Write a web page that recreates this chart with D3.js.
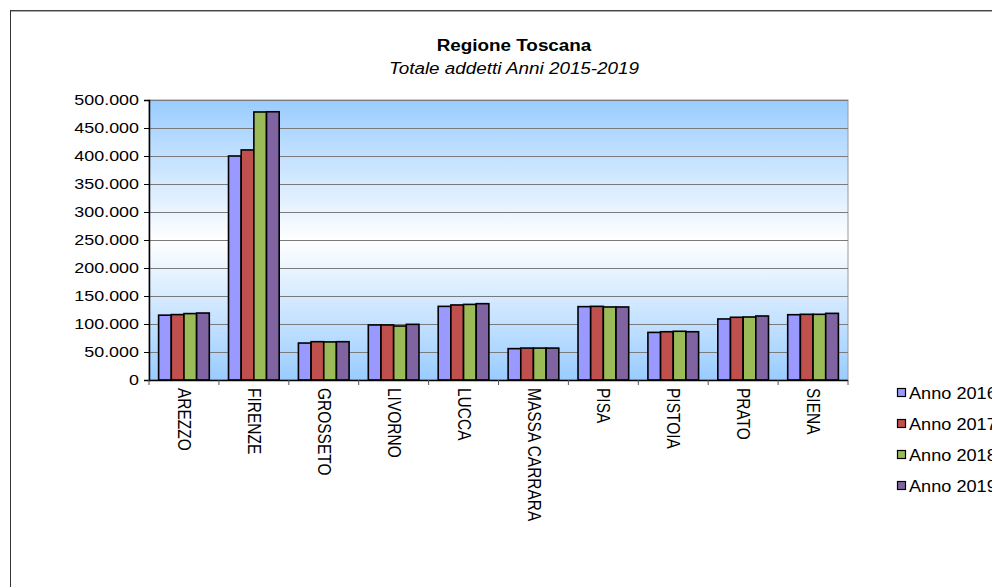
<!DOCTYPE html>
<html>
<head>
<meta charset="utf-8">
<script src="https://cdn.jsdelivr.net/npm/d3@7/dist/d3.min.js"></script>
<style>
  html, body { margin: 0; padding: 0; background: #fff; }
  svg { display: block; font-family: "Liberation Sans", Arial, sans-serif; }
</style>
</head>
<body>
<svg id="chart" width="992" height="587"></svg>
<script>
const categories = ["AREZZO","FIRENZE","GROSSETO","LIVORNO","LUCCA","MASSA CARRARA","PISA","PISTOIA","PRATO","SIENA"];
const seriesNames = ["Anno 2016","Anno 2017","Anno 2018","Anno 2019"];
const anno2016 = [115800, 400000, 66000, 98300, 131500, 56000, 131000, 85000, 109000, 116600];
const anno2017 = [116800, 410800, 68400, 98300, 134000, 57000, 131500, 86200, 112000, 117300];
const anno2018 = [118600, 478600, 68000, 96400, 135000, 57000, 130400, 87000, 112500, 117300];
const anno2019 = [119600, 479000, 68400, 99400, 136300, 57000, 130400, 86200, 114300, 119000];
const seriesColors = ["#9999FF","#C0504D","#9BBB59","#8064A2"];
const yTicks = [0,50000,100000,150000,200000,250000,300000,350000,400000,450000,500000];
const titleText = "Regione Toscana";
const subtitleText = "Totale addetti Anni 2015-2019";

const series = [anno2016, anno2017, anno2018, anno2019];
const svg = d3.select("#chart");
const itFmt = d3.formatLocale({decimal: ",", thousands: ".", grouping: [3], currency: ["€",""]}).format(",d");

const plot = {left: 149, right: 848, top: 100, bottom: 380};

// outer frame (partial, like the reference)
svg.append("line").attr("x1", 10).attr("y1", 10.5).attr("x2", 992).attr("y2", 10.5)
  .attr("stroke", "#444").attr("stroke-width", 1);
svg.append("line").attr("x1", 10).attr("y1", 11.5).attr("x2", 992).attr("y2", 11.5)
  .attr("stroke", "#aaa").attr("stroke-width", 1);
svg.append("line").attr("x1", 10.5).attr("y1", 10).attr("x2", 10.5).attr("y2", 587)
  .attr("stroke", "#333").attr("stroke-width", 1);

// gradient
const defs = svg.append("defs");
const grad = defs.append("linearGradient").attr("id", "bg").attr("x1", 0).attr("y1", 0).attr("x2", 0).attr("y2", 1);
grad.append("stop").attr("offset", "0%").attr("stop-color", "#99CCFF");
grad.append("stop").attr("offset", "50%").attr("stop-color", "#FFFFFF");
grad.append("stop").attr("offset", "100%").attr("stop-color", "#99CCFF");

const x0 = d3.scaleBand().domain(categories).range([plot.left, plot.right]).paddingInner(0.275).paddingOuter(0.1375);
const x1 = d3.scaleBand().domain(d3.range(series.length)).range([0, x0.bandwidth()]);
const y = d3.scaleLinear().domain([0, 500000]).range([plot.bottom, plot.top]);

svg.append("rect").attr("x", plot.left).attr("y", plot.top)
  .attr("width", plot.right - plot.left).attr("height", plot.bottom - plot.top)
  .attr("fill", "url(#bg)").attr("stroke", "#999").attr("stroke-width", 1);

// gridlines
svg.append("g").selectAll("line").data(yTicks.filter(d => d > 0)).join("line")
  .attr("x1", plot.left).attr("x2", plot.right)
  .attr("y1", d => Math.round(y(d)) + 0.5).attr("y2", d => Math.round(y(d)) + 0.5)
  .attr("stroke", "#7a7a7a").attr("stroke-width", 1);

// bars
const g = svg.append("g");
categories.forEach((c, ci) => {
  series.forEach((s, si) => {
    g.append("rect")
      .attr("x", x0(c) + x1(si))
      .attr("y", y(s[ci]))
      .attr("width", x1.bandwidth())
      .attr("height", y(0) - y(s[ci]))
      .attr("fill", seriesColors[si])
      .attr("stroke", "#000").attr("stroke-width", 1.6);
  });
});

// y axis
const yAxis = d3.axisLeft(y).tickValues(yTicks).tickFormat(itFmt).tickSize(5).tickPadding(5);
const ya = svg.append("g").attr("transform", `translate(${plot.left},0)`).call(yAxis);
ya.select(".domain").attr("stroke", "#000").attr("stroke-width", 1.5);
ya.selectAll(".tick line").attr("stroke", "#000");
ya.selectAll(".tick text").each(function() {
  const t = d3.select(this);
  const xx = +t.attr("x");
  t.attr("x", null).attr("font-size", 14).attr("fill", "#000")
   .attr("font-family", "Liberation Sans, Arial, sans-serif")
   .attr("transform", `translate(${xx},0) scale(1.28,1)`);
});

// x axis
const xa = svg.append("g").attr("transform", `translate(0,${plot.bottom})`);
xa.append("line").attr("x1", plot.left).attr("x2", plot.right).attr("y1", 0.5).attr("y2", 0.5)
  .attr("stroke", "#000").attr("stroke-width", 1.5);
const step = x0.step();
xa.selectAll("line.tk").data(d3.range(categories.length + 1)).join("line").attr("class", "tk")
  .attr("x1", i => plot.left + i * step).attr("x2", i => plot.left + i * step)
  .attr("y1", 0).attr("y2", 5).attr("stroke", "#555");
xa.selectAll("text").data(categories).join("text")
  .attr("transform", d => `translate(${x0(d) + x0.bandwidth() / 2},8) scale(1.18,1) rotate(90)`)
  .attr("dominant-baseline", "central")
  .attr("font-size", 15.5).attr("fill", "#000")
  .text(d => d);

// titles
svg.append("text").attr("transform", "translate(514,51) scale(1.11,1)")
  .attr("text-anchor", "middle").attr("font-size", 17).attr("font-weight", "bold").text(titleText);
svg.append("text").attr("transform", "translate(514,74) scale(1.11,1)")
  .attr("text-anchor", "middle").attr("font-size", 17).attr("font-style", "italic").text(subtitleText);

// legend
const leg = svg.append("g");
seriesNames.forEach((n, i) => {
  const yy = 393 + i * 31;
  leg.append("rect").attr("x", 897.5).attr("y", yy - 4.5).attr("width", 8).attr("height", 8)
    .attr("fill", seriesColors[i]).attr("stroke", "#000").attr("stroke-width", 1.2);
  leg.append("text").attr("transform", `translate(909,${yy}) scale(1.1,1)`)
    .attr("dominant-baseline", "central").attr("font-size", 16.5).text(n);
});
</script>
</body>
</html>
